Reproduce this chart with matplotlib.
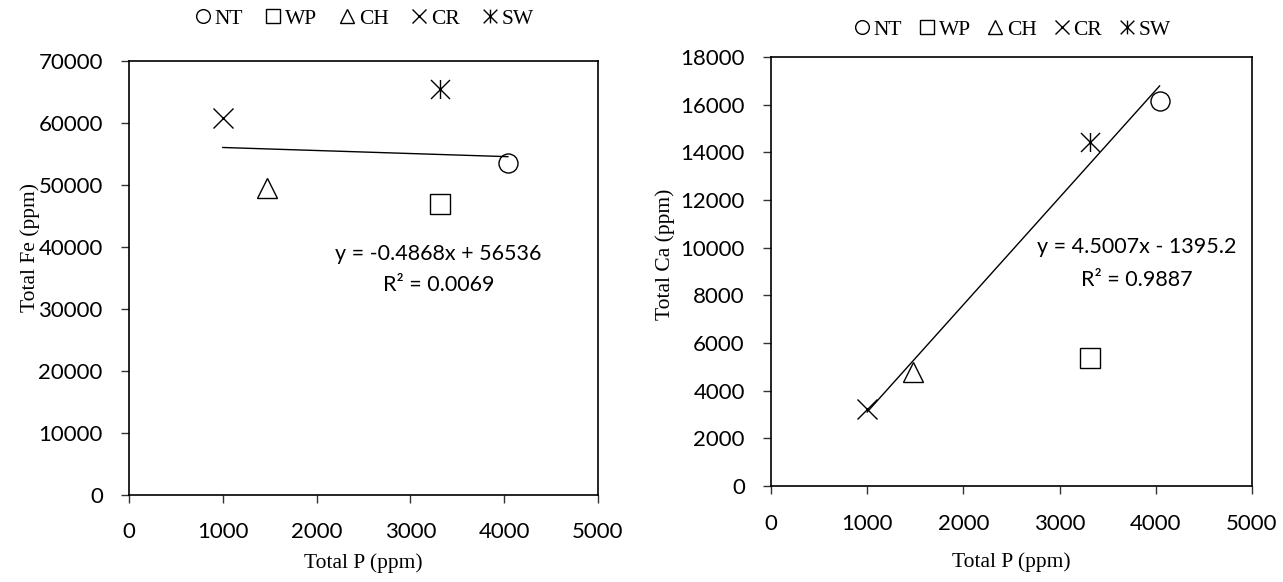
import matplotlib
matplotlib.use("Agg")
import matplotlib.pyplot as plt
from matplotlib.path import Path
import numpy as np

# Sites and their totals (ppm)
sites = ["NT", "WP", "CH", "CR", "SW"]
total_p = [4040, 3316, 1475, 1000, 3316]
total_fe = [53600, 47000, 49500, 60800, 65500]
total_ca = [16150, 5380, 4780, 3250, 14450]

# trendline coefficients as printed on the chart
fe_slope, fe_icpt, fe_r2 = -0.4868, 56536, 0.0069
ca_slope, ca_icpt, ca_r2 = 4.5007, -1395.2, 0.9887
trend_x = [1000, 4040]

# "x" with a vertical bar through it, like Excel's star marker
star = Path([(-1, -1), (1, 1), (-1, 1), (1, -1), (0, -1), (0, 1)],
            [Path.MOVETO, Path.LINETO] * 3)
markers = {"NT": "o", "WP": "s", "CH": "^", "CR": "x", "SW": star}

serif = "Liberation Serif"
sans = "Lato"

fig = plt.figure(figsize=(12.83, 5.82), dpi=100)
ax1 = fig.add_axes([0.1005, 0.1495, 0.3655, 0.7457])
ax2 = fig.add_axes([0.6009, 0.1649, 0.3749, 0.7371])


def draw(ax, yvals, slope, icpt, r2, ymax, ystep, eq_pos, colspace, leg_y,
         ylab, ylab_xy, xlab_y):
    for s, x, y in zip(sites, total_p, yvals):
        ax.plot(x, y, linestyle="none", marker=markers[s], markersize=13.7,
                markerfacecolor="none", markeredgecolor="black",
                markeredgewidth=1.0, color="black", label=s)
    tx = np.array(trend_x)
    ax.plot(tx, slope * tx + icpt, color="black", lw=1.0)

    ax.set_xlim(0, 5000)
    ax.set_ylim(0, ymax)
    ax.set_xticks(np.arange(0, 5001, 1000))
    ax.set_yticks(np.arange(0, ymax + 1, ystep))
    for sp in ax.spines.values():
        sp.set_linewidth(1.2)
        sp.set_color("black")
    ax.tick_params(direction="out", length=5.8, width=1.0, color="#333333",
                   labelsize=16, labelcolor="black")
    ax.tick_params(axis="y", pad=13)
    ax.tick_params(axis="x", pad=14)
    for lab in ax.get_xticklabels() + ax.get_yticklabels():
        lab.set_fontfamily(sans)

    ax.set_xlabel("Total P (ppm)", family=serif, fontsize=15.5)
    ax.xaxis.set_label_coords(0.5, xlab_y)
    ax.set_ylabel(ylab, family=serif, fontsize=15.5)
    ax.yaxis.set_label_coords(*ylab_xy)

    sign = "-" if icpt < 0 else "+"
    ax.text(eq_pos[0], eq_pos[1], f"y = {slope}x {sign} {abs(icpt):g}",
            family=sans, fontsize=15.5, ha="center", va="center")
    ax.text(eq_pos[0], eq_pos[2], f"R² = {r2:.4f}",
            family=sans, fontsize=15.5, ha="center", va="center")

    ax.legend(loc="lower center", bbox_to_anchor=(0.5, leg_y), ncol=5,
              frameon=False, markerscale=0.72, handlelength=0.9,
              handletextpad=0.1, columnspacing=colspace, borderaxespad=0,
              prop={"family": serif, "size": 15.5})


draw(ax1, total_fe, fe_slope, fe_icpt, fe_r2, 70000, 10000,
     (3300, 38800, 33900), 0.95, 1.055, "Total Fe (ppm)", (-0.19, 0.57), -0.135)
draw(ax2, total_ca, ca_slope, ca_icpt, ca_r2, 18000, 2000,
     (3805, 10030, 8640), 0.7, 1.02, "Total Ca (ppm)", (-0.20, 0.54), -0.155)

fig.savefig("out.png", dpi=100)
